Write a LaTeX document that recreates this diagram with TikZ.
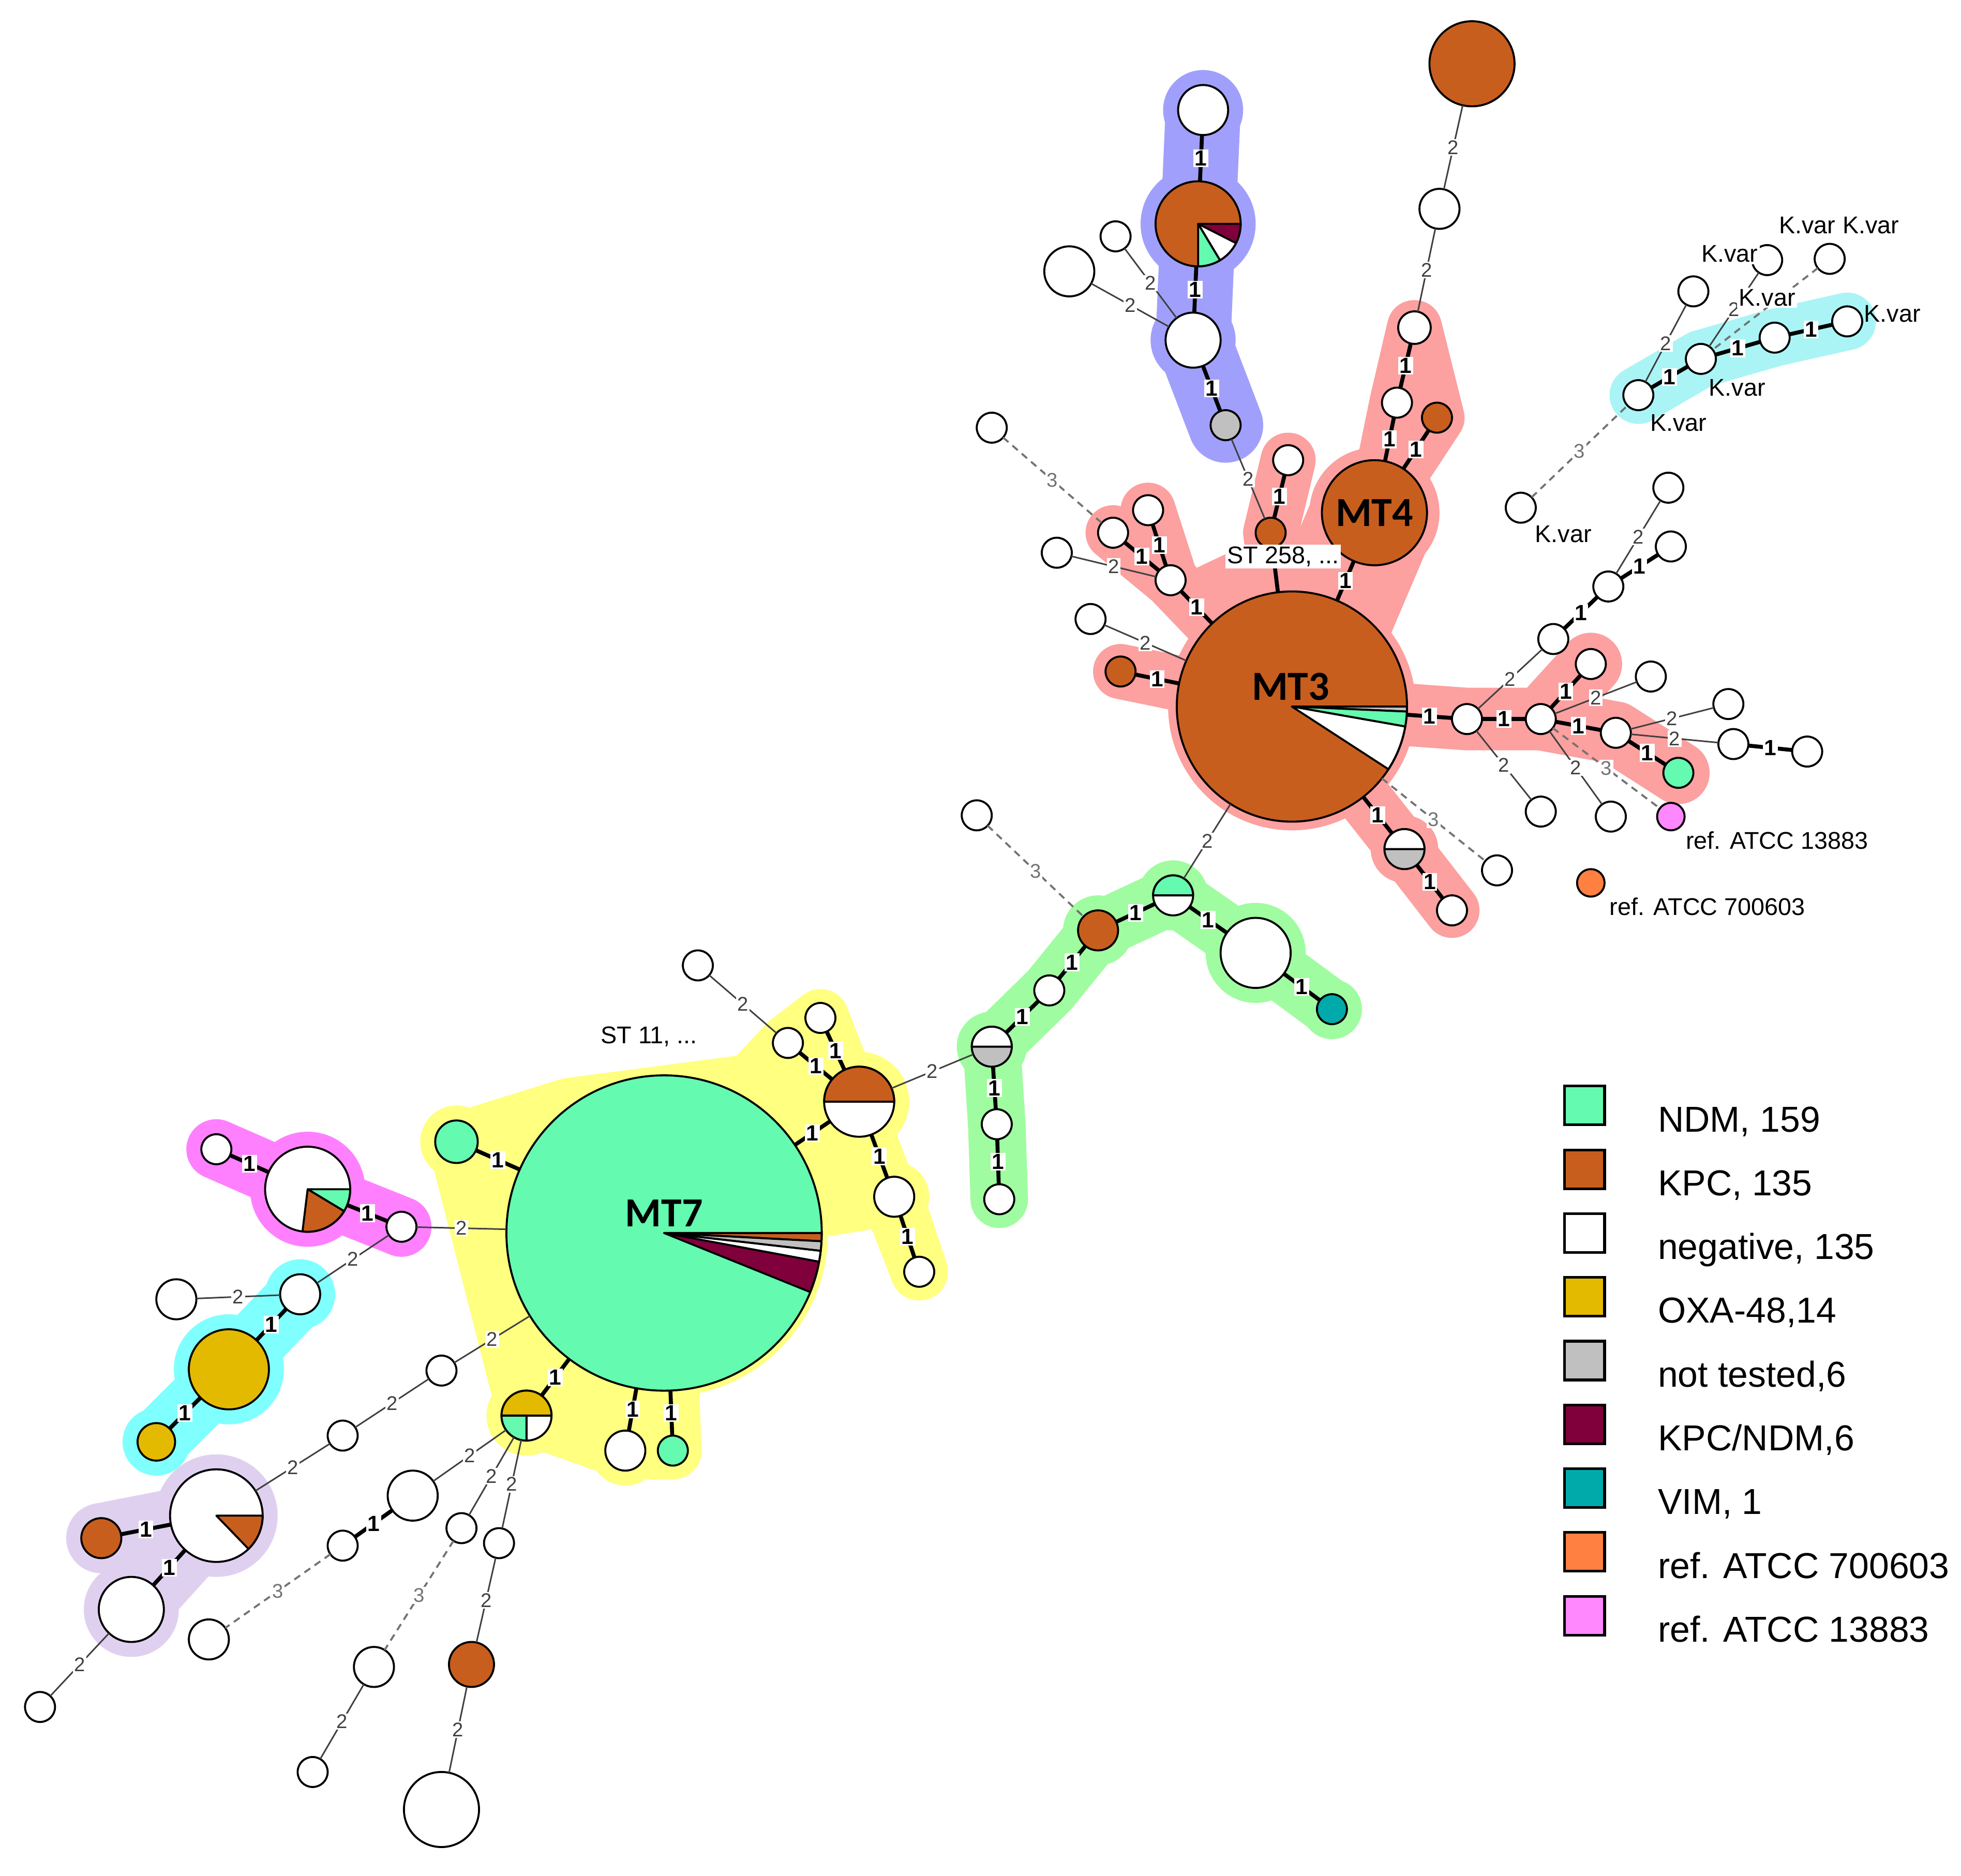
\documentclass[tikz,border=0pt]{standalone}
\usepackage{fontspec}
\setmainfont{Liberation Sans}
\newfontfamily\mtfont{Carlito}
\usepackage{tikz}
\pgfdeclarelayer{halo}
\pgfsetlayers{halo,main}

\definecolor{ndm}{RGB}{100,250,176}
\definecolor{kpc}{RGB}{200,94,30}
\definecolor{oxa}{RGB}{228,186,0}
\definecolor{ntest}{RGB}{192,192,192}
\definecolor{kpcndm}{RGB}{128,0,60}
\definecolor{vim}{RGB}{0,170,170}
\definecolor{refa}{RGB}{255,128,64}
\definecolor{refb}{RGB}{255,136,255}
\definecolor{hpink}{RGB}{252,160,160}
\definecolor{hblue}{RGB}{160,160,252}
\definecolor{hkvar}{RGB}{170,244,246}
\definecolor{hgreen}{RGB}{160,252,160}
\definecolor{hyellow}{RGB}{255,255,128}
\definecolor{hmag}{RGB}{255,128,255}
\definecolor{hcyan}{RGB}{128,255,255}
\definecolor{hlav}{RGB}{224,208,240}

\tikzset{
  nd/.style={circle, draw=black, line width=0.45pt, inner sep=0pt, outer sep=0pt, minimum size=#1*0.2mm},
  e1/.style={line width=0.9pt, black},
  e2/.style={line width=0.35pt, black!75},
  e3/.style={line width=0.45pt, black!55, dash pattern=on 1.6pt off 1.2pt},
  w1/.style={fill=white, inner sep=0.3pt, font=\bfseries\fontsize{5}{5}\selectfont},
  w2/.style={fill=white, inner sep=0.3pt, font=\fontsize{4.5}{5}\selectfont},
  halo/.style={line width=#1, line cap=round, line join=round},
  lab/.style={inner sep=0.4pt, font=\fontsize{5.5}{6}\selectfont},
  mtlab/.style={inner sep=0pt, font=\mtfont\bfseries\fontsize{9.4}{10}\selectfont},
  lgbox/.style={draw=black, line width=0.6pt, minimum width=3.2mm, minimum height=3.1mm, inner sep=0pt},
  lgtxt/.style={anchor=base west, inner sep=0pt, font=\fontsize{8.2}{9}\selectfont},
}
% pie slice of a node: name, radius, start, end, colour
\newcommand\slc[5]{\filldraw[fill=#5, draw=black, line width=0.45pt, line join=round] (#1.center) -- ++(#3:#2) arc[start angle=#3, end angle=#4, radius=#2] -- cycle;}

\begin{document}
\begin{tikzpicture}[x=0.01cm, y=0.01cm]
\useasboundingbox (0,-1500) rectangle (1568,0);

% top and blue group
\node[nd=34, fill=kpc] (t1) at (1177,-51) {};
\node[nd=16, fill=white] (t2) at (1151,-167) {};
\node[nd=20, fill=white] (b1) at (962,-88) {};
\node[nd=34, fill=kpc] (b2) at (958,-179) {};
\node[nd=22, fill=white] (b3) at (954,-272) {};
\node[nd=12, fill=ntest] (b4) at (980,-340) {};
\node[nd=12, fill=white] (u1) at (892,-189) {};
\node[nd=20, fill=white] (u2) at (855,-217) {};

% MT3 / MT4 group
\node[nd=92, fill=kpc] (mt3) at (1033,-565) {};
\node[nd=42, fill=kpc] (mt4) at (1099,-410) {};
\node[nd=13, fill=white] (p1) at (1131,-262) {};
\node[nd=12, fill=white] (p2) at (1117,-322) {};
\node[nd=12, fill=kpc] (p3) at (1149,-334) {};
\node[nd=12, fill=white] (p4) at (1030,-368) {};
\node[nd=12, fill=kpc] (p5) at (1016,-426) {};
\node[nd=12, fill=white] (p6) at (918,-408) {};
\node[nd=12, fill=white] (p7) at (890,-426) {};
\node[nd=12, fill=white] (p8) at (936,-464) {};
\node[nd=12, fill=kpc] (p9) at (896,-537) {};
\node[nd=12, fill=white] (p10) at (1173,-575) {};
\node[nd=12, fill=white] (p11) at (1232,-575) {};
\node[nd=12, fill=white] (p12) at (1292,-586) {};
\node[nd=12, fill=ndm] (p13) at (1342,-618) {};
\node[nd=12, fill=white] (p14) at (1272,-531) {};
\node[nd=16, fill=ntest] (p15) at (1123,-679) {};
\node[nd=12, fill=white] (p16) at (1161,-728) {};
\node[nd=12, fill=white] (u3) at (793,-342) {};
\node[nd=12, fill=white] (u4) at (845,-442) {};
\node[nd=12, fill=white] (u5) at (872,-495) {};
\node[nd=12, fill=white] (u6) at (1242,-511) {};
\node[nd=12, fill=white] (u7) at (1286,-469) {};
\node[nd=12, fill=white] (u8) at (1334,-390) {};
\node[nd=12, fill=white] (u9) at (1336,-437) {};
\node[nd=12, fill=white] (u10) at (1320,-541) {};
\node[nd=12, fill=white] (u11) at (1382,-563) {};
\node[nd=12, fill=white] (u12) at (1386,-595) {};
\node[nd=12, fill=white] (u13) at (1445,-601) {};
\node[nd=12, fill=white] (u14) at (1232,-649) {};
\node[nd=12, fill=white] (u15) at (1288,-653) {};
\node[nd=11, fill=refb] (rb) at (1336,-653) {};
\node[nd=11, fill=refa] (ra) at (1272,-706) {};
\node[nd=12, fill=white] (u16) at (1197,-696) {};

% K.var group
\node[nd=12, fill=white] (k1) at (1310,-316) {};
\node[nd=12, fill=white] (k2) at (1360,-287) {};
\node[nd=12, fill=white] (k3) at (1419,-270) {};
\node[nd=12, fill=white] (k4) at (1477,-257) {};
\node[nd=12, fill=white] (k5) at (1354,-233) {};
\node[nd=12, fill=white] (k6) at (1413,-208) {};
\node[nd=12, fill=white] (k7) at (1463,-207) {};
\node[nd=12, fill=white] (k8) at (1216,-406) {};

% green group
\node[nd=16, fill=white] (g1) at (938,-716) {};
\node[nd=16, fill=kpc] (g2) at (878,-744) {};
\node[nd=12, fill=white] (g3) at (839,-792) {};
\node[nd=16, fill=ntest] (g4) at (793,-837) {};
\node[nd=12, fill=white] (g5) at (797,-899) {};
\node[nd=12, fill=white] (g6) at (799,-959) {};
\node[nd=28, fill=white] (g7) at (1004,-762) {};
\node[nd=12, fill=vim] (g8) at (1065,-807) {};
\node[nd=12, fill=white] (u17) at (781,-652) {};

% MT7 group
\node[nd=126, fill=ndm] (mt7) at (531,-986) {};
\node[nd=17, fill=ndm] (y1) at (365,-913) {};
\node[nd=28, fill=white] (y2) at (687,-881) {};
\node[nd=12, fill=white] (y3) at (630,-834) {};
\node[nd=12, fill=white] (y4) at (656,-814) {};
\node[nd=16, fill=white] (y5) at (715,-957) {};
\node[nd=12, fill=white] (y6) at (735,-1017) {};
\node[nd=16, fill=white] (y7) at (500,-1160) {};
\node[nd=12, fill=ndm] (y8) at (538,-1160) {};
\node[nd=20, fill=white] (y9) at (421,-1132) {};
\node[nd=12, fill=white] (u18) at (558,-772) {};

% left groups
\node[nd=12, fill=white] (m1) at (173,-919) {};
\node[nd=34, fill=white] (m2) at (246,-951) {};
\node[nd=12, fill=white] (m3) at (321,-981) {};
\node[nd=16, fill=white] (c1) at (240,-1035) {};
\node[nd=32, fill=oxa] (c2) at (183,-1095) {};
\node[nd=15, fill=oxa] (c3) at (125,-1153) {};
\node[nd=16, fill=white] (u19) at (141,-1039) {};
\node[nd=37, fill=white] (l1) at (173,-1212) {};
\node[nd=16, fill=kpc] (l2) at (81,-1230) {};
\node[nd=26, fill=white] (l3) at (105,-1287) {};
\node[nd=12, fill=white] (u20) at (32,-1365) {};
\node[nd=12, fill=white] (u21) at (274,-1148) {};
\node[nd=12, fill=white] (u22) at (353,-1096) {};

% bottom
\node[nd=20, fill=white] (u23) at (330,-1196) {};
\node[nd=12, fill=white] (u24) at (274,-1236) {};
\node[nd=16, fill=white] (u25) at (167,-1311) {};
\node[nd=12, fill=white] (u26) at (369,-1222) {};
\node[nd=16, fill=white] (u27) at (299,-1333) {};
\node[nd=12, fill=white] (u28) at (250,-1417) {};
\node[nd=12, fill=white] (u29) at (399,-1234) {};
\node[nd=18, fill=kpc] (u30) at (377,-1331) {};
\node[nd=30, fill=white] (u31) at (353,-1447) {};

% pie slices
\slc{mt3}{92}{0}{-2.5}{ntest}
\slc{mt3}{92}{-2.5}{-10}{ndm}
\slc{mt3}{92}{-10}{-33}{white}
\slc{mt7}{126}{0}{-3}{kpc}
\slc{mt7}{126}{-3}{-6.5}{ntest}
\slc{mt7}{126}{-6.5}{-10.5}{white}
\slc{mt7}{126}{-10.5}{-22}{kpcndm}
\slc{b2}{34}{0}{-27}{kpcndm}
\slc{b2}{34}{-27}{-59}{white}
\slc{b2}{34}{-59}{-90}{ndm}
\slc{m2}{34}{0}{-31}{ndm}
\slc{m2}{34}{-31}{-97}{kpc}
\slc{l1}{37}{0}{-46}{kpc}
\slc{g1}{16}{0}{180}{ndm}
\slc{g4}{16}{0}{180}{white}
\slc{p15}{16}{0}{180}{white}
\slc{y2}{28}{0}{180}{kpc}
\slc{y9}{20}{0}{180}{oxa}
\slc{y9}{20}{180}{270}{ndm}

% edges, top and blue
\draw[e1] (b1) -- node[w1]{1} (b2);
\draw[e1] (b2) -- node[w1]{1} (b3);
\draw[e1] (b3) -- node[w1]{1} (b4);
\draw[e2] (u1) -- node[w2]{2} (b3);
\draw[e2] (u2) -- node[w2]{2} (b3);
\draw[e2] (b4) -- node[w2]{2} (p5);
\draw[e2] (t1) -- node[w2]{2} (t2);
\draw[e2] (t2) -- node[w2]{2} (p1);

% edges, MT3 group
\draw[e1] (p1) -- node[w1]{1} (p2);
\draw[e1] (p2) -- node[w1]{1} (mt4);
\draw[e1] (p3) -- node[w1]{1} (mt4);
\draw[e1] (mt4) -- node[w1]{1} (mt3);
\draw[e1] (p4) -- node[w1]{1} (p5);
\draw[e1] (p5) -- (mt3);
\draw[e1] (p7) -- node[w1]{1} (p8);
\draw[e1] (p6) -- node[w1]{1} (p8);
\draw[e2] (u4) -- node[w2]{2} (p8);
\draw[e1] (p8) -- node[w1]{1} (mt3);
\draw[e3] (u3) -- node[w2]{3} (p7);
\draw[e2] (u5) -- node[w2]{2} (mt3);
\draw[e1] (p9) -- node[w1]{1} (mt3);
\draw[e1] (mt3) -- node[w1]{1} (p10);
\draw[e1] (p10) -- node[w1]{1} (p11);
\draw[e1] (p11) -- node[w1]{1} (p12);
\draw[e1] (p12) -- node[w1]{1} (p13);
\draw[e1] (p11) -- node[w1]{1} (p14);
\draw[e2] (p11) -- node[w2]{2} (u10);
\draw[e2] (p12) -- node[w2]{2} (u11);
\draw[e2] (p12) -- node[w2]{2} (u12);
\draw[e1] (u12) -- node[w1]{1} (u13);
\draw[e2] (p11) -- node[w2]{2} (u15);
\draw[e3] (p11) -- node[w2]{3} (rb);
\draw[e2] (p10) -- node[w2]{2} (u14);
\draw[e2] (p10) -- node[w2]{2} (u6);
\draw[e1] (u6) -- node[w1]{1} (u7);
\draw[e2] (u7) -- node[w2]{2} (u8);
\draw[e1] (u7) -- node[w1]{1} (u9);
\draw[e1] (mt3) -- node[w1]{1} (p15);
\draw[e1] (p15) -- node[w1]{1} (p16);
\draw[e3] (mt3) -- node[w2]{3} (u16);
\draw[e2] (mt3) -- node[w2]{2} (g1);

% edges, K.var
\draw[e1] (k1) -- node[w1]{1} (k2);
\draw[e1] (k2) -- node[w1]{1} (k3);
\draw[e1] (k3) -- node[w1]{1} (k4);
\draw[e2] (k5) -- node[w2]{2} (k1);
\draw[e2] (k6) -- node[w2]{2} (k2);
\draw[e3] (k7) -- (k2);
\draw[e3] (k8) -- node[w2]{3} (k1);

% edges, green group
\draw[e1] (g1) -- node[w1]{1} (g2);
\draw[e1] (g2) -- node[w1]{1} (g3);
\draw[e1] (g3) -- node[w1]{1} (g4);
\draw[e1] (g4) -- node[w1]{1} (g5);
\draw[e1] (g5) -- node[w1]{1} (g6);
\draw[e1] (g1) -- node[w1]{1} (g7);
\draw[e1] (g7) -- node[w1]{1} (g8);
\draw[e3] (u17) -- node[w2]{3} (g2);
\draw[e2] (g4) -- node[w2]{2} (y2);

% edges, MT7 group
\draw[e1] (y1) -- node[w1]{1} (mt7);
\draw[e1] (y3) -- node[w1]{1} (y2);
\draw[e1] (y4) -- node[w1]{1} (y2);
\draw[e1] (y2) -- node[w1]{1} (mt7);
\draw[e1] (y2) -- node[w1]{1} (y5);
\draw[e1] (y5) -- node[w1]{1} (y6);
\draw[e2] (u18) -- node[w2]{2} (y3);
\draw[e1] (mt7) -- node[w1]{1} (y7);
\draw[e1] (mt7) -- node[w1]{1} (y8);
\draw[e1] (mt7) -- node[w1]{1} (y9);
\draw[e2] (m3) -- node[w2]{2} (mt7);
\draw[e2] (u22) -- node[w2]{2} (mt7);

% edges, left groups
\draw[e1] (m1) -- node[w1]{1} (m2);
\draw[e1] (m2) -- node[w1]{1} (m3);
\draw[e2] (m3) -- node[w2]{2} (c1);
\draw[e1] (c1) -- node[w1]{1} (c2);
\draw[e1] (c2) -- node[w1]{1} (c3);
\draw[e2] (u19) -- node[w2]{2} (c1);
\draw[e1] (l2) -- node[w1]{1} (l1);
\draw[e1] (l1) -- node[w1]{1} (l3);
\draw[e2] (l3) -- node[w2]{2} (u20);
\draw[e2] (l1) -- node[w2]{2} (u21);
\draw[e2] (u21) -- node[w2]{2} (u22);

% edges, bottom
\draw[e2] (y9) -- node[w2]{2} (u23);
\draw[e1] (u23) -- node[w1]{1} (u24);
\draw[e3] (u24) -- node[w2]{3} (u25);
\draw[e2] (y9) -- node[w2]{2} (u26);
\draw[e3] (u26) -- node[w2]{3} (u27);
\draw[e2] (u27) -- node[w2]{2} (u28);
\draw[e2] (y9) -- node[w2]{2} (u29);
\draw[e2] (u29) -- node[w2]{2} (u30);
\draw[e2] (u30) -- node[w2]{2} (u31);

% texts
\node[mtlab] (mt3l) at (1032,-549) {MT3};
\node[mtlab] (mt4l) at (1099,-410) {MT4};
\node[mtlab] (mt7l) at (531,-970) {MT7};
\node[lab, fill=white] (st258) at (1026,-445) {ST 258, ...};
\node[lab] (st11) at (519,-829) {ST 11, ...};
\node[lab, anchor=west] (refbl) at (1346,-672) {ref. ATCC 13883};
\node[lab, anchor=west] (refal) at (1285,-725) {ref. ATCC 700603};
\node[lab, fill=white] (kv1) at (1383,-203) {K.var};
\node[lab] (kv2) at (1445,-180) {K.var};
\node[lab] (kv3) at (1496,-180) {K.var};
\node[lab, fill=white] (kv4) at (1413,-238) {K.var};
\node[lab] (kv5) at (1513,-251) {K.var};
\node[lab] (kv6) at (1389,-310) {K.var};
\node[lab] (kv7) at (1342,-338) {K.var};
\node[lab] (kv8) at (1250,-427) {K.var};

% legend
\node[lgbox, fill=ndm] (lg1) at (1267,-884) {};
\node[lgbox, fill=kpc] (lg2) at (1267,-935) {};
\node[lgbox, fill=white] (lg3) at (1267,-986) {};
\node[lgbox, fill=oxa] (lg4) at (1267,-1037) {};
\node[lgbox, fill=ntest] (lg5) at (1267,-1088) {};
\node[lgbox, fill=kpcndm] (lg6) at (1267,-1139) {};
\node[lgbox, fill=vim] (lg7) at (1267,-1190) {};
\node[lgbox, fill=refa] (lg8) at (1267,-1241) {};
\node[lgbox, fill=refb] (lg9) at (1267,-1292) {};
\node[lgtxt] (lt1) at (1325,-905) {NDM, 159};
\node[lgtxt] (lt2) at (1325,-956) {KPC, 135};
\node[lgtxt] (lt3) at (1325,-1007) {negative, 135};
\node[lgtxt] (lt4) at (1325,-1058) {OXA-48,14};
\node[lgtxt] (lt5) at (1325,-1109) {not tested,6};
\node[lgtxt] (lt6) at (1325,-1160) {KPC/NDM,6};
\node[lgtxt] (lt7) at (1325,-1211) {VIM, 1};
\node[lgtxt] (lt8) at (1325,-1262) {ref. ATCC 700603};
\node[lgtxt] (lt9) at (1325,-1313) {ref. ATCC 13883};

% coloured group backgrounds
\begin{pgfonlayer}{halo}
\fill[hpink] (mt3.center) circle[radius=99];
\fill[hpink] (mt4.center) circle[radius=52];
\fill[hpink] (p8.center) -- (p5.center) -- (mt4.center) -- (mt3.center) -- cycle;
\draw[halo=1.0cm, hpink] (mt4.center) -- (mt3.center);
\filldraw[halo=0.44cm, hpink] (p1.center) -- (p3.center) -- (mt4.center) -- (p2.center) -- cycle;
\draw[halo=0.44cm, hpink] (p4.center) -- (p5.center) -- (mt3.center);
\draw[halo=0.44cm, hpink] (p7.center) -- (p8.center) -- (mt3.center) (p6.center) -- (p8.center);
\draw[halo=0.44cm, hpink] (p9.center) -- (mt3.center);
\draw[halo=0.5cm, hpink] (mt3.center) -- (p10.center) -- (p11.center) -- (p12.center) -- (p13.center) (p11.center) -- (p14.center);
\draw[halo=0.44cm, hpink] (mt3.center) -- (p15.center) -- (p16.center);
\fill[hpink] (p15.center) circle[radius=27];
\fill[hblue] (b1.center) circle[radius=32] (b2.center) circle[radius=46] (b3.center) circle[radius=34] (b4.center) circle[radius=24];
\draw[halo=0.6cm, hblue] (b1.center) -- (b2.center) -- (b3.center) -- (b4.center);
\draw[halo=0.46cm, hkvar] (k1.center) -- (k2.center) -- (k3.center) -- (k4.center);
\fill[hgreen] (g1.center) circle[radius=28] (g2.center) circle[radius=28] (g4.center) circle[radius=28] (g7.center) circle[radius=40] (g8.center) circle[radius=24];
\draw[halo=0.46cm, hgreen] (g6.center) -- (g5.center) -- (g4.center) -- (g3.center) -- (g2.center) -- (g1.center) -- (g7.center) -- (g8.center);
\fill[hyellow] (mt7.center) circle[radius=131] (y2.center) circle[radius=40] (y9.center) circle[radius=32] (y7.center) circle[radius=28] (y5.center) circle[radius=28] (y1.center) circle[radius=29];
\filldraw[halo=0.46cm, hyellow] (y1.center) -- (455,-885) -- (600,-866) -- (y3.center) -- (y4.center) -- (y6.center) -- (y5.center) -- (mt7.center) -- cycle;
\filldraw[halo=0.46cm, hyellow] (y1.center) -- (mt7.center) -- (y8.center) -- (y7.center) -- (y9.center) -- cycle;
\fill[hmag] (m2.center) circle[radius=46];
\draw[halo=0.48cm, hmag] (m1.center) -- (m2.center) -- (m3.center);
\fill[hcyan] (c1.center) circle[radius=28] (c2.center) circle[radius=44] (c3.center) circle[radius=27];
\draw[halo=0.5cm, hcyan] (c1.center) -- (c2.center) -- (c3.center);
\fill[hlav] (l1.center) circle[radius=49] (l2.center) circle[radius=28] (l3.center) circle[radius=38];
\fill[hlav] (l1.center) -- (l2.center) -- (l3.center) -- cycle;
\draw[halo=0.56cm, hlav] (l2.center) -- (l1.center) -- (l3.center);
\end{pgfonlayer}
\end{tikzpicture}
\end{document}
